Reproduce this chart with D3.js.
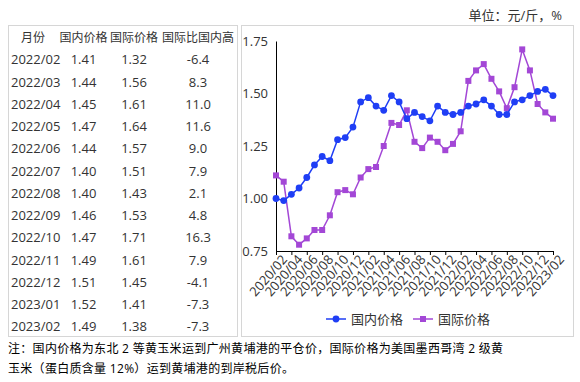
<!DOCTYPE html>
<html>
<head>
<meta charset="utf-8">
<script src="https://cdn.jsdelivr.net/npm/d3@7"></script>
<style>
  body { margin: 0; background: #fff; }
  svg { display: block; font-family: "Segoe UI", "Open Sans", "Noto Sans", "Noto Sans CJK SC", sans-serif; }
</style>
</head>
<body>
<div id="chart"></div>
<script>
// monthly prices, 2020/02 - 2023/02 (yuan per jin)
const months = ['2020/02','2020/03','2020/04','2020/05','2020/06','2020/07','2020/08','2020/09','2020/10','2020/11','2020/12',
  '2021/01','2021/02','2021/03','2021/04','2021/05','2021/06','2021/07','2021/08','2021/09','2021/10','2021/11','2021/12',
  '2022/01','2022/02','2022/03','2022/04','2022/05','2022/06','2022/07','2022/08','2022/09','2022/10','2022/11','2022/12',
  '2023/01','2023/02'];
const domestic = [1.00,0.99,1.02,1.05,1.10,1.16,1.20,1.18,1.28,1.29,1.34,1.46,1.48,1.44,1.42,1.49,1.46,1.38,1.41,1.39,1.37,1.44,1.41,1.40,
  1.41,1.44,1.45,1.47,1.44,1.40,1.40,1.46,1.47,1.49,1.51,1.52,1.49];
const international = [1.11,1.08,0.82,0.78,0.81,0.85,0.85,0.92,1.03,1.04,1.02,1.10,1.14,1.15,1.25,1.36,1.35,1.42,1.27,1.24,1.29,1.27,1.23,1.26,
  1.32,1.56,1.61,1.64,1.57,1.51,1.43,1.53,1.71,1.61,1.45,1.41,1.38];
const yTicks = [0.75, 1.00, 1.25, 1.50, 1.75];

// table on the left
const tableHeader = ['月份', '国内价格', '国际价格', '国际比国内高'];
const tableMonths = ['2022/02','2022/03','2022/04','2022/05','2022/06','2022/07','2022/08','2022/09','2022/10','2022/11','2022/12','2023/01','2023/02'];
const tableDomestic = ['1.41','1.44','1.45','1.47','1.44','1.40','1.40','1.46','1.47','1.49','1.51','1.52','1.49'];
const tableIntl = ['1.32','1.56','1.61','1.64','1.57','1.51','1.43','1.53','1.71','1.61','1.45','1.41','1.38'];
const tableDiff = ['-6.4','8.3','11.0','11.6','9.0','7.9','2.1','4.8','16.3','7.9','-4.1','-7.3','-7.3'];

const seriesNames = ['国内价格', '国际价格'];
const unitText = '单位：元/斤，%';
const noteLines = ['注：国内价格为东北 2 等黄玉米运到广州黄埔港的平仓价，国际价格为美国墨西哥湾 2 级黄',
  '玉米（蛋白质含量 12%）运到黄埔港的到岸税后价。'];

const w = 580, h = 382;
const blue = '#1f3ef5', purple = '#a347d6', ink = '#333';

const svg = d3.select('#chart').append('svg')
  .attr('width', w)
  .attr('height', h);

// boxes
svg.append('rect').attr('x', 8.5).attr('y', 25.5).attr('width', 229).attr('height', 311)
  .attr('fill', 'none').attr('stroke', '#d6d6d6');
svg.append('rect').attr('x', 241.5).attr('y', 25.5).attr('width', 332).attr('height', 311)
  .attr('fill', 'none').attr('stroke', '#d6d6d6');

// #Table
const colX = [33, 83.5, 134, 198];
const rowY = d3.scaleLinear().domain([0, 13]).range([37.7, 326.7]);
svg.append('g').selectAll('text')
  .data(tableHeader)
  .enter().append('text')
  .attr('x', (d, i) => colX[i])
  .attr('y', rowY(0))
  .attr('dy', '0.35em')
  .attr('text-anchor', 'middle')
  .attr('font-size', 12)
  .attr('fill', ink)
  .text(d => d);
const rows = tableMonths.map((m, i) => [m, tableDomestic[i], tableIntl[i], tableDiff[i]]);
const rowG = svg.append('g').selectAll('g')
  .data(rows)
  .enter().append('g')
  .attr('transform', (d, i) => 'translate(0,' + rowY(i + 1) + ')');
rowG.selectAll('text')
  .data(d => d)
  .enter().append('text')
  .attr('x', (d, i) => i === 0 ? 11 : colX[i])
  .attr('dy', '0.35em')
  .attr('text-anchor', (d, i) => i === 0 ? 'start' : 'middle')
  .attr('font-size', 13)
  .attr('fill', ink)
  .text(d => d);

// #Scales
const xScale = d3.scalePoint().domain(months).range([276, 553]);
const yScale = d3.scaleLinear().domain([0.75, 1.75]).range([251, 41]);

// #Axes
const xAxis = d3.axisBottom(xScale)
  .tickValues(months.filter((d, i) => i % 2 === 0))
  .tickSizeInner(4)
  .tickSizeOuter(0);
const gx = svg.append('g')
  .attr('transform', 'translate(0,' + yScale(0.75) + ')')
  .call(xAxis);
gx.select('.domain').attr('stroke', '#000');
gx.selectAll('.tick line').attr('stroke', '#000');
gx.selectAll('.tick text')
  .attr('font-size', 13)
  .attr('font-family', '"Segoe UI", "Open Sans", sans-serif')
  .attr('fill', ink)
  .attr('text-anchor', 'end')
  .attr('transform', 'translate(8,6) rotate(-49)')
  .attr('x', 0).attr('y', 0).attr('dy', '0.35em');

const yAxis = d3.axisLeft(yScale)
  .tickValues(yTicks)
  .tickFormat(d3.format('.2f'))
  .tickSize(0)
  .tickPadding(8);
const gy = svg.append('g')
  .attr('transform', 'translate(276,0)')
  .call(yAxis);
gy.select('.domain').attr('stroke', '#000');
gy.selectAll('.tick text').attr('font-size', 13).attr('fill', ink)
  .attr('font-family', '"Segoe UI", "Open Sans", sans-serif');

// #Lines
const line = d3.line()
  .x((d, i) => xScale(months[i]))
  .y(d => yScale(d));
svg.append('path').datum(international)
  .attr('d', line).attr('fill', 'none').attr('stroke', purple).attr('stroke-width', 1.5);
svg.append('g').selectAll('rect')
  .data(international)
  .enter().append('rect')
  .attr('x', (d, i) => xScale(months[i]) - 3)
  .attr('y', d => yScale(d) - 3)
  .attr('width', 6).attr('height', 6)
  .attr('fill', purple);

svg.append('path').datum(domestic)
  .attr('d', line).attr('fill', 'none').attr('stroke', blue).attr('stroke-width', 1.5);
svg.append('g').selectAll('circle')
  .data(domestic)
  .enter().append('circle')
  .attr('cx', (d, i) => xScale(months[i]))
  .attr('cy', d => yScale(d))
  .attr('r', 3.4)
  .attr('fill', blue);

// #Legend
const legend = svg.append('g').attr('transform', 'translate(0,319)');
const legX = [326, 413];
seriesNames.forEach((name, i) => {
  const color = i === 0 ? blue : purple;
  const g = legend.append('g').attr('transform', 'translate(' + legX[i] + ',0)');
  g.append('line').attr('x1', 0).attr('x2', 20).attr('stroke', color).attr('stroke-width', 1.5);
  if (i === 0) g.append('circle').attr('cx', 10).attr('r', 3.4).attr('fill', color);
  else g.append('rect').attr('x', 7).attr('y', -3).attr('width', 6).attr('height', 6).attr('fill', color);
  g.append('text').attr('x', 25).attr('dy', '0.35em')
    .attr('font-size', 13).attr('fill', ink).text(name);
});

// unit + note
svg.append('text')
  .attr('x', 562).attr('y', 15).attr('dy', '0.35em')
  .attr('text-anchor', 'end')
  .attr('font-size', 13)
  .attr('fill', ink)
  .text(unitText);
svg.selectAll('.note')
  .data(noteLines)
  .enter().append('text')
  .attr('class', 'note')
  .attr('x', 8)
  .attr('y', (d, i) => 349 + i * 19.5)
  .attr('dy', '0.35em')
  .attr('font-size', 12)
  .attr('letter-spacing', 0.3)
  .attr('fill', '#000')
  .text(d => d);
</script>
</body>
</html>
